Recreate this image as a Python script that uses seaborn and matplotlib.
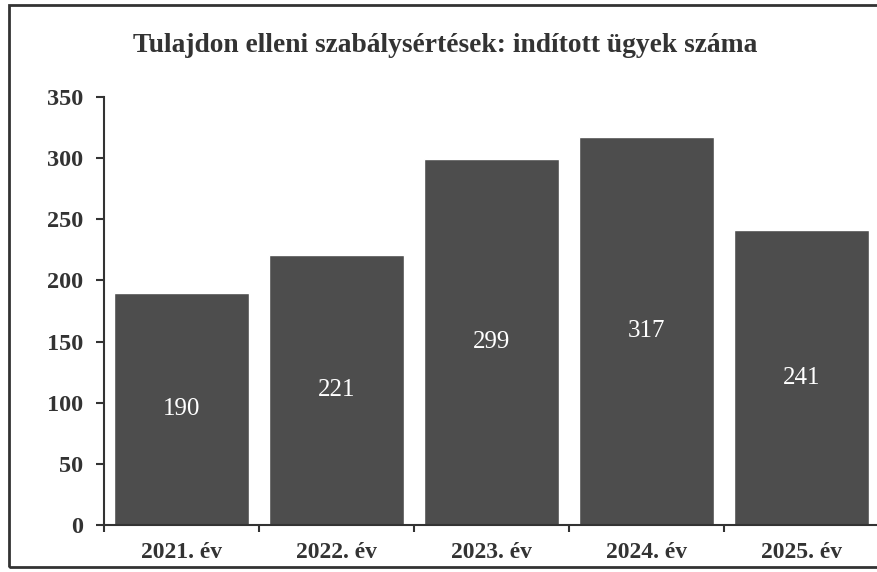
import numpy as np
import pandas as pd
import seaborn as sns
import matplotlib
matplotlib.use('Agg')
import matplotlib.pyplot as plt
from matplotlib.patches import Rectangle

# adatok
years = ['2021. év', '2022. év', '2023. év', '2024. év', '2025. év']
cases = [190, 221, 299, 317, 241]
title = 'Tulajdon elleni szabálysértések: indított ügyek száma'

sns.set_theme(style='white')
plt.rcParams['font.family'] = ['Liberation Serif', 'DejaVu Serif']

df = pd.DataFrame({'year': years, 'cases': cases})

fig = plt.figure(figsize=(8.78, 5.72), dpi=100)
fig.patch.set_facecolor('white')
ax = fig.add_axes([104 / 878, 47 / 572, 775 / 878, 428 / 572])

sns.barplot(data=df, x='year', y='cases', color='#4d4d4d', saturation=1,
            width=0.87, ax=ax)

for c in ax.containers:
    ax.bar_label(c, label_type='center', color='white', fontsize=18)

ax.set_ylim(0, 350)
ax.set_xlim(-0.5, 4.5)
ax.set_yticks(range(0, 351, 50))
ax.set_xlabel('')
ax.set_ylabel('')

# kategóriahatárokon kis jelölők
ax.set_xticks(np.arange(-0.5, 5, 1), minor=True)
ax.tick_params(axis='x', which='major', length=0, pad=12, labelsize=17, colors='#333333')
ax.tick_params(axis='x', which='minor', length=5, width=1.5, color='#333333', direction='out', bottom=True)
ax.tick_params(axis='y', which='major', length=6, width=1.5, color='#333333', direction='out', left=True,
               labelsize=17.5, colors='#333333', pad=9)
for lab in ax.get_xticklabels() + ax.get_yticklabels():
    lab.set_fontweight('bold')

for side in ['top', 'right']:
    ax.spines[side].set_visible(False)
for side in ['left', 'bottom']:
    ax.spines[side].set_color('#333333')
    ax.spines[side].set_linewidth(1.5)

fig.text(445 / 878, 1 - 45 / 572, title, ha='center', va='center',
         fontsize=19.8, fontweight='bold', color='#333333')

# keret
fig.patches.append(Rectangle((9 / 878, 5 / 572), 1.1, 562 / 572, transform=fig.transFigure,
                             fill=False, edgecolor='#333333', linewidth=2))

fig.savefig('out.png', dpi=100)
